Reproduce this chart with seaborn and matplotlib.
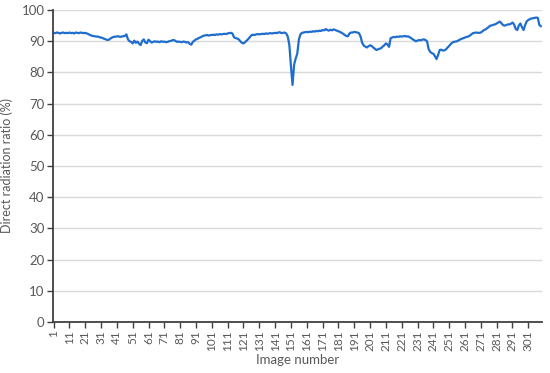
import matplotlib
matplotlib.use("Agg")
import matplotlib.pyplot as plt
import numpy as np
import pandas as pd
import seaborn as sns

# direct radiation ratio (%) for each image
ratio = [
    92.7, 92.6, 92.8, 92.7, 92.5, 92.7, 92.8, 92.6, 92.7, 92.6,
    92.8, 92.6, 92.7, 92.5, 92.8, 92.7, 92.6, 92.8, 92.7, 92.6,
    92.7, 92.5, 92.3, 92.0, 91.8, 91.7, 91.6, 91.5, 91.5, 91.3,
    91.2, 91.0, 90.8, 90.6, 90.4, 90.5, 90.9, 91.2, 91.4, 91.5,
    91.5, 91.6, 91.4, 91.5, 91.6, 91.7, 92.2, 90.6, 90.0, 89.8,
    89.3, 90.2, 89.5, 89.9, 89.2, 88.8, 90.1, 90.6, 89.6, 89.4,
    90.5, 90.0, 89.6, 89.8, 90.0, 89.8, 89.9, 89.7, 90.0, 89.8,
    89.9, 89.7, 89.8, 90.0, 90.1, 90.3, 90.4, 90.1, 89.8, 89.9,
    89.8, 89.7, 89.9, 89.8, 89.6, 89.7, 89.2, 88.9, 89.8, 90.2,
    90.6, 90.8, 91.1, 91.3, 91.6, 91.8, 91.9, 92.0, 91.8, 92.0,
    92.0, 92.1, 92.0, 92.2, 92.1, 92.3, 92.2, 92.3, 92.4, 92.3,
    92.5, 92.6, 92.7, 92.5, 91.3, 91.0, 90.9, 90.6, 90.0, 89.5,
    89.3, 89.7, 90.2, 90.7, 91.3, 91.9, 92.1, 92.0, 92.2, 92.3,
    92.2, 92.3, 92.4, 92.3, 92.5, 92.4, 92.5, 92.6, 92.5, 92.6,
    92.7, 92.6, 92.8, 92.9, 92.6, 92.7, 92.8, 92.5, 91.5, 88.8,
    82.0, 76.0, 82.5, 84.5, 86.0, 90.5, 92.2, 92.7, 92.8, 92.9,
    93.0, 92.9, 93.1, 93.0, 93.2, 93.1, 93.3, 93.2, 93.4, 93.3,
    93.6, 93.5, 93.9, 93.6, 93.4, 93.7, 93.5, 93.8, 93.6, 93.4,
    93.2, 93.0, 92.7, 92.4, 92.0, 91.7, 91.6, 92.5, 92.8, 92.8,
    93.0, 92.9, 92.8, 92.6, 91.5, 89.5, 88.6, 88.3, 88.0, 88.4,
    88.7, 88.5, 88.0, 87.6, 87.2, 87.4, 87.6, 87.8, 88.3, 88.7,
    89.3, 89.0, 88.2, 91.0, 91.2, 91.4, 91.3, 91.5, 91.4, 91.6,
    91.5, 91.6, 91.7, 91.5, 91.6, 91.3, 91.0, 90.6, 90.3, 90.0,
    90.2, 90.4, 90.3, 90.5, 90.6, 90.4, 90.0, 87.5, 86.6, 86.2,
    86.0, 85.2, 84.3, 85.6, 87.2, 87.3, 87.0, 87.1, 87.4, 88.0,
    88.5, 89.1, 89.6, 89.8, 89.9, 90.0, 90.3, 90.6, 90.8, 91.0,
    91.2, 91.4, 91.5, 91.8, 92.2, 92.6, 92.7, 92.8, 92.7, 92.7,
    92.8, 93.2, 93.6, 93.8, 94.2, 94.6, 95.0, 95.1, 95.3, 95.4,
    95.7, 96.0, 96.3, 95.8, 95.2, 95.0, 95.2, 95.4, 95.4, 95.6,
    96.0, 95.4, 94.0, 93.6, 95.0, 95.7, 94.5, 93.6, 95.2, 96.4,
    96.8, 97.1, 97.3, 97.4, 97.5, 97.6, 97.5, 95.2, 94.8,
]
image_number = list(range(1, len(ratio) + 1))
x_tick_labels = list(range(1, 302, 10))
y_ticks = list(range(0, 101, 10))

df = pd.DataFrame({"image": image_number, "ratio": ratio})

sns.set_style("white")
plt.rcParams["font.family"] = ["Lato", "DejaVu Sans"]
text_color = "#595959"

fig = plt.figure(figsize=(5.5, 3.73), dpi=100)
ax = fig.add_axes([0.096, 0.137, 0.889, 0.836])
sns.lineplot(ax=ax, x="image", y="ratio", data=df, color="#1F6DCC", linewidth=1.6)

ax.set_xlim(0.5, len(ratio) + 0.5)
ax.set_ylim(0, 100)
ax.set_yticks(y_ticks)
ax.set_xticks(x_tick_labels)
ax.set_xticklabels([str(v) for v in x_tick_labels], rotation=90)
ax.yaxis.grid(True, color="#D9D9D9", linewidth=1)
ax.set_axisbelow(True)

for side in ["top", "right"]:
    ax.spines[side].set_visible(False)
for side in ["left", "bottom"]:
    ax.spines[side].set_color("#404040")
    ax.spines[side].set_linewidth(1.3)

ax.tick_params(axis="both", direction="out", length=4, width=1, color="#404040",
               labelsize=9.5, labelcolor=text_color, pad=2, left=True, bottom=True)
ax.tick_params(axis="x", labelsize=8.5)
ax.set_xlabel("Image number", fontsize=9.5, color=text_color, labelpad=2)
ax.set_ylabel("Direct radiation ratio (%)", fontsize=9, color=text_color, labelpad=6)

plt.savefig("out.png", dpi=100)
